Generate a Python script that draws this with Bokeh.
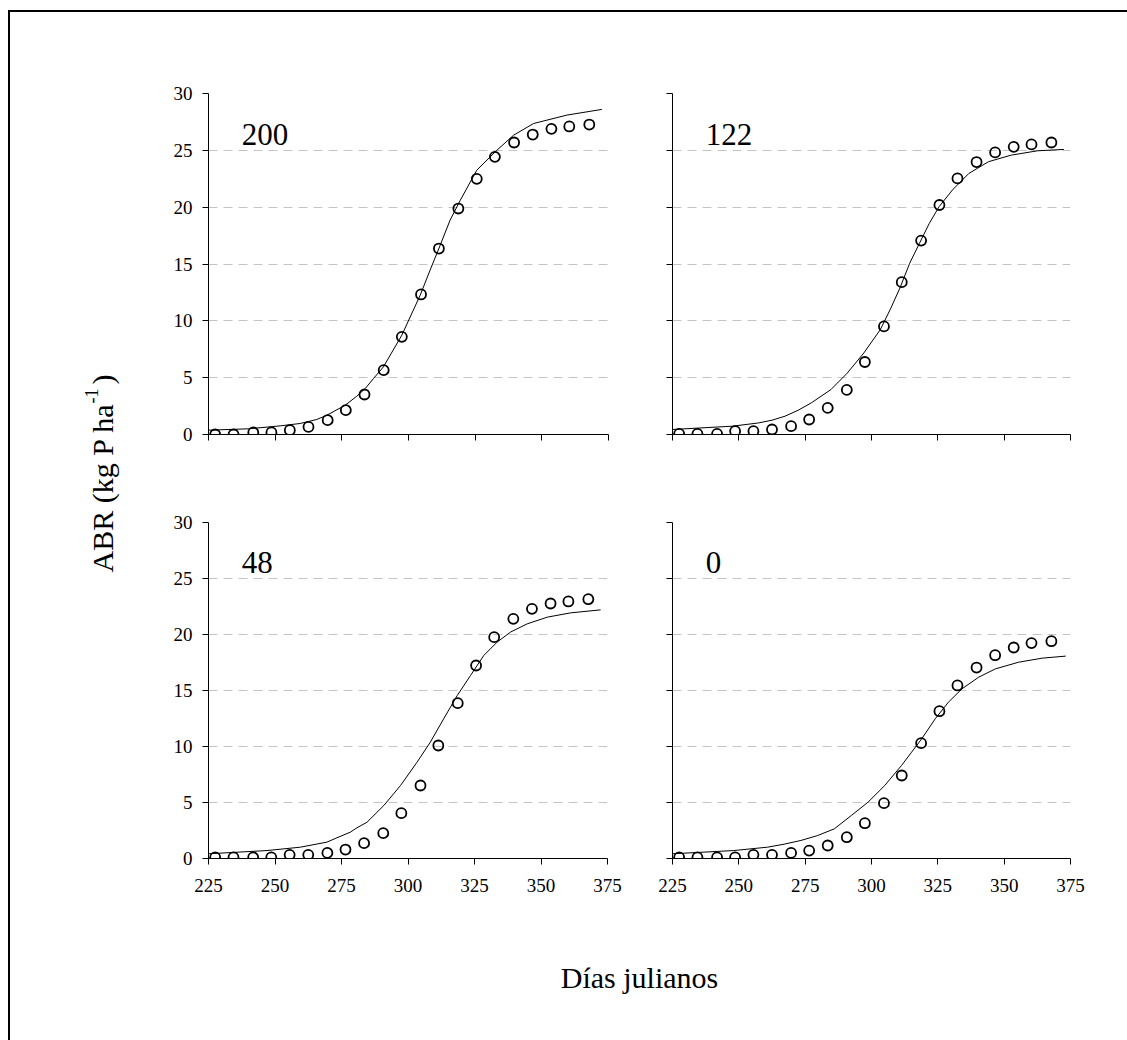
import math
from bokeh.plotting import figure
from bokeh.layouts import row, column
from bokeh.models import Range1d, FixedTicker, Label
from bokeh.embed import file_html
from bokeh.resources import INLINE

# ---------------- data ----------------
dias = [227.5, 234.4, 241.8, 248.6, 255.5, 262.5, 269.7, 276.5, 283.5, 290.7,
        297.5, 304.7, 311.4, 318.7, 325.6, 332.4, 339.6, 346.6, 353.6, 360.3, 367.8]

obs_200 = [0.0, 0.0, 0.18, 0.18, 0.38, 0.67, 1.26, 2.14, 3.52, 5.66,
           8.59, 12.32, 16.36, 19.88, 22.49, 24.43, 25.69, 26.39, 26.89, 27.10, 27.27]
obs_122 = [0.06, 0.06, 0.06, 0.29, 0.29, 0.44, 0.73, 1.32, 2.34, 3.92,
           6.38, 9.51, 13.40, 17.06, 20.19, 22.53, 23.97, 24.82, 25.31, 25.52, 25.69]
obs_48 = [0.1, 0.1, 0.1, 0.1, 0.33, 0.33, 0.5, 0.8, 1.37, 2.26,
          4.05, 6.52, 10.09, 13.87, 17.23, 19.76, 21.4, 22.29, 22.77, 22.95, 23.15]
obs_0 = [0.1, 0.1, 0.1, 0.1, 0.33, 0.33, 0.5, 0.71, 1.16, 1.9,
         3.15, 4.94, 7.41, 10.3, 13.15, 15.45, 17.05, 18.15, 18.84, 19.23, 19.4]

fit_200_x = [225, 240, 251.9, 259.4, 265.6, 269.4, 276.3, 280.6, 283.8, 286.9, 290.6, 297.5,
             304.4, 308.1, 311.9, 315.6, 319.4, 325.6, 333.1, 339.4, 346.9, 359.4, 372.5]
fit_200_y = [0.38, 0.5, 0.76, 0.97, 1.32, 1.7, 2.58, 3.37, 4.05, 4.93, 5.95, 8.74,
             12.26, 14.46, 16.66, 18.86, 20.6, 23.25, 25.0, 26.33, 27.36, 28.1, 28.6]

fit_122_x = [225, 247.6, 257.5, 262.5, 267.4, 272.4, 277.3, 284.7, 290.9, 297.1, 303.3, 307.0,
             310.7, 314.4, 318.1, 321.8, 325.5, 330.5, 336.7, 344.1, 352.7, 362.6, 372.5]
fit_122_y = [0.44, 0.73, 1.02, 1.26, 1.61, 2.14, 2.78, 3.95, 5.41, 7.17, 9.22, 10.97,
             12.88, 15.07, 16.83, 18.58, 20.05, 21.51, 22.97, 24.0, 24.58, 24.96, 25.08]

fit_48_x = [225, 247, 259.5, 269.5, 273.3, 278.3, 280.8, 284.6, 290.9, 297.2, 303.4, 308.4,
            313.4, 318.5, 323.5, 328.5, 333.5, 338.5, 344.8, 352.4, 361.1, 372.4]
fit_48_y = [0.42, 0.71, 1.01, 1.46, 1.85, 2.35, 2.74, 3.24, 4.73, 6.52, 8.6, 10.39,
            12.47, 14.55, 16.34, 18.13, 19.32, 20.21, 20.95, 21.55, 21.93, 22.2]

fit_0_x = [225, 248.1, 260.8, 267.1, 273.4, 279.7, 286.0, 292.4, 298.7, 305.0, 311.3, 315.1,
           318.9, 324.0, 329.0, 334.1, 340.4, 346.7, 355.5, 364.4, 373.2]
fit_0_y = [0.42, 0.71, 1.01, 1.28, 1.61, 2.05, 2.65, 3.84, 5.03, 6.52, 8.3, 9.49,
           10.68, 12.47, 13.96, 15.15, 16.19, 16.93, 17.53, 17.89, 18.07]

x_ticks = [225, 250, 275, 300, 325, 350, 375]
y_ticks = [0, 5, 10, 15, 20, 25, 30]
panel_names = ["200", "122", "48", "0"]

FONT = "'Liberation Serif', 'Times New Roman', serif"


def make_panel(width, height, bl, br, bt, bb, obs, fx, fy, name, xlabels, ylabels):
    p = figure(width=width, height=height, x_range=Range1d(225, 375), y_range=Range1d(0, 30),
               output_backend="svg", toolbar_location=None,
               min_border_left=bl, min_border_right=br, min_border_top=bt, min_border_bottom=bb,
               outline_line_color=None, background_fill_color="white", border_fill_color="white")
    p.xaxis.ticker = FixedTicker(ticks=x_ticks)
    p.yaxis.ticker = FixedTicker(ticks=y_ticks)
    for ax in (p.xaxis, p.yaxis):
        ax.axis_line_color = "black"
        ax.axis_line_width = 1
        ax.major_tick_line_color = "black"
        ax.major_tick_out = 6
        ax.major_tick_in = 0
        ax.minor_tick_line_color = None
        ax.major_label_text_font = FONT
        ax.major_label_text_font_size = "19px"
        ax.major_label_text_color = "black"
    p.xaxis.major_label_standoff = 14
    p.yaxis.major_label_standoff = 10
    if not xlabels:
        p.xaxis.major_label_overrides = {t: "" for t in x_ticks}
    if not ylabels:
        p.yaxis.major_label_overrides = {t: "" for t in y_ticks}
    p.xgrid.grid_line_color = None
    p.ygrid.grid_line_color = "#c4c4c4"
    p.ygrid.grid_line_dash = "9 6"
    p.ygrid.grid_line_width = 1

    p.line(fx, fy, line_color="black", line_width=1)
    p.scatter(dias, obs, marker="circle", size=10, fill_color=None,
              line_color="black", line_width=1.8)
    p.add_layout(Label(x=237.5, y=26.4, text=name, text_font=FONT, text_font_size="31px",
                       text_color="black", text_baseline="alphabetic", text_align="left"))
    return p


# top row: page y 12..478 ; bottom row 478..910
tl = make_panel(500, 466, 68, 32, 81, 44, obs_200, fit_200_x, fit_200_y, panel_names[0], False, True)
tr = make_panel(487, 466, 32, 57, 81, 44, obs_122, fit_122_x, fit_122_y, panel_names[1], False, False)
bl = make_panel(500, 432, 68, 33, 44, 52, obs_48, fit_48_x, fit_48_y, panel_names[2], True, True)
br = make_panel(487, 432, 32, 57, 44, 52, obs_0, fit_0_x, fit_0_y, panel_names[3], True, False)


def blank(width, height):
    f = figure(width=width, height=height, x_range=Range1d(0, width), y_range=Range1d(height, 0),
               output_backend="svg", toolbar_location=None, x_axis_type=None, y_axis_type=None,
               min_border=0, min_border_left=0, min_border_right=0, min_border_top=0,
               min_border_bottom=0, outline_line_color=None,
               background_fill_color="white", border_fill_color="white")
    f.xgrid.grid_line_color = None
    f.ygrid.grid_line_color = None
    return f


left = blank(130, 1028)
left.add_layout(Label(x=92, y=560, text="ABR (kg P ha", angle=math.pi / 2, text_font=FONT,
                      text_font_size="30px", text_color="black", text_align="left",
                      text_baseline="alphabetic"))
left.add_layout(Label(x=81, y=391, text="-1", angle=math.pi / 2, text_font=FONT,
                      text_font_size="18px", text_color="black", text_align="left",
                      text_baseline="alphabetic"))
left.add_layout(Label(x=92, y=372, text=")", angle=math.pi / 2, text_font=FONT,
                      text_font_size="30px", text_color="black", text_align="left",
                      text_baseline="alphabetic"))

bottom = blank(987, 130)
bottom.add_layout(Label(x=499, y=67, text="Días julianos", text_font=FONT,
                        text_font_size="30px", text_color="black", text_align="center",
                        text_baseline="alphabetic"))

root = row(left, column(row(tl, tr), row(bl, br), bottom),
           styles={"margin-left": "8px", "margin-top": "10px",
                   "border-left": "2px solid black", "border-top": "2px solid black"})

open("out.html", "w").write(file_html(root, INLINE))
